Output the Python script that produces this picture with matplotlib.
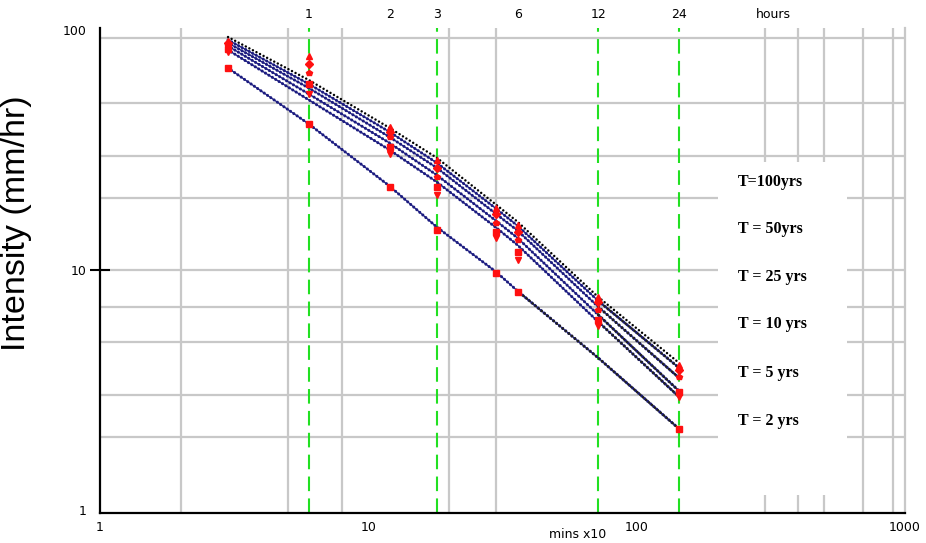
import numpy as np
import matplotlib
matplotlib.use("Agg")
import matplotlib.pyplot as plt
from matplotlib.patches import Rectangle
from matplotlib.ticker import NullLocator, FixedLocator, FixedFormatter

# duration in units of 10 minutes
durations = [3, 6, 12, 18, 30, 36, 72, 144]

labels = ["T=100yrs", "T = 50yrs", "T = 25 yrs", "T = 10 yrs", "T = 5 yrs", "T = 2 yrs"]

# fitted IDF curves (mm/hr)
fit_t100 = [93.9, 62.1, 39.2, 29.4, 18.7, 15.9, 7.7, 4.09]
fit_t50 = [91.3, 59.8, 37.7, 28.0, 18.0, 15.3, 7.42, 3.90]
fit_t25 = [88.7, 57.5, 35.9, 26.7, 17.1, 14.6, 7.01, 3.54]
fit_t10 = [86.1, 54.3, 33.9, 24.9, 16.0, 13.6, 6.49, 3.12]
fit_t5 = [82.9, 51.3, 31.7, 23.3, 15.0, 12.7, 6.07, 2.95]
fit_t2 = [69.7, 40.7, 22.4, 15.1, 9.8, 8.17, 4.29, 2.17]

# observed intensities (mm/hr)
obs_t100 = [90.4, 78.3, 39.5, 28.8, 18.1, 15.4, 7.7, 4.01]
obs_t50 = [88.7, 72.4, 37.7, 26.7, 17.1, 14.4, 7.35, 3.82]
obs_t25 = [86.1, 66.4, 35.9, 24.5, 15.7, 13.3, 6.8, 3.57]
obs_t10 = [83.7, 59.8, 32.6, 22.2, 14.4, 11.9, 6.2, 3.09]
obs_t5 = [81.3, 54.3, 30.5, 20.6, 13.6, 11.0, 5.84, 2.95]
obs_t2 = [69.7, 40.7, 22.2, 14.7, 9.7, 8.1, np.nan, 2.17]

hour_ticks = [6, 12, 18, 36, 72, 144]
hour_labels = ["1", "2", "3", "6", "12", "24"]
green_lines = [6, 18, 72, 144]

x_grid = [2, 5, 8, 20, 30, 300, 400, 500, 700, 900]
y_grid = [2, 3, 5, 7, 10, 20, 30, 50, 93]

fits = [fit_t100, fit_t50, fit_t25, fit_t10, fit_t5, fit_t2]
obs = [obs_t100, obs_t50, obs_t25, obs_t10, obs_t5, obs_t2]
obs_markers = ["^", "D", "p", "s", "v", "s"]

W, H = 926, 543
fig = plt.figure(figsize=(W / 100, H / 100), dpi=100)
ax = fig.add_axes([100 / W, 1 - 513 / H, 805 / W, 485 / H])
ax.set_xscale("log")
ax.set_yscale("log")
ax.set_xlim(1, 1000)
ax.set_ylim(0.967, 102.4)

grid_col = "#c8c8c8"
for gx in x_grid:
    ax.axvline(gx, color=grid_col, lw=1.6, zorder=1)
for gy in y_grid:
    ax.axhline(gy, color=grid_col, lw=1.6, zorder=1)

for gx in green_lines:
    ax.axvline(gx, color="#22e022", lw=1.5, dashes=(7, 3.5), zorder=2)

navy = "#1c1c80"
for i, f in enumerate(fits):
    if i == 0:
        ax.plot(durations, f, color="black", lw=1.8, dashes=(0.01, 1.6),
                dash_capstyle="round", zorder=3)
        continue
    ax.plot(durations, f, color=navy, lw=0.9, zorder=3)
    ax.plot(durations, f, color=navy, lw=2.2, dashes=(0.01, 1.3),
            dash_capstyle="round", zorder=3)
    tail = 5 if i == 5 else 6
    ax.plot(durations[tail:], f[tail:], color="#202020", lw=2.0, dashes=(0.01, 1.4),
            dash_capstyle="round", zorder=3)

for o, m in zip(obs, obs_markers):
    ax.plot(durations, o, ls="none", marker=m, ms=4, color="#ff1010",
            mec="#ff1010", zorder=4)

ax.xaxis.set_minor_locator(NullLocator())
ax.yaxis.set_minor_locator(NullLocator())
ax.xaxis.set_major_locator(FixedLocator([1, 10, 100, 1000]))
ax.xaxis.set_major_formatter(FixedFormatter(["1", "10", "100", "1000"]))
ax.yaxis.set_major_locator(FixedLocator([1, 10, 100]))
ax.yaxis.set_major_formatter(FixedFormatter(["1", "10", "100"]))
ax.tick_params(axis="x", length=0, pad=6, labelsize=9)
ax.tick_params(axis="y", direction="inout", length=15, width=1.5, pad=2, labelsize=9)
yt = ax.yaxis.get_major_ticks()
yt[0].tick1line.set_visible(False)
yt[2].tick1line.set_visible(False)

ax.spines["top"].set_visible(False)
ax.spines["right"].set_color(grid_col)
ax.spines["right"].set_linewidth(1.6)
ax.spines["left"].set_linewidth(1.6)
ax.spines["bottom"].set_linewidth(1.6)

# hour labels along the top
for hx, hl in zip(hour_ticks, hour_labels):
    ax.text(hx, 1.027, hl, transform=ax.get_xaxis_transform(), ha="center",
            va="center", fontsize=9)
ax.text(322, 1.027, "hours", transform=ax.get_xaxis_transform(), ha="center",
        va="center", fontsize=9)
ax.text(60, -0.03, "mins x10", transform=ax.get_xaxis_transform(), ha="center",
        va="top", fontsize=9)

fig.text(17 / W, 1 - 223 / H, "Intensity (mm/hr)", rotation=90, ha="center",
         va="center", fontsize=24.5, family="Liberation Sans")

# legend panel
fig.patches.append(Rectangle((718 / W, 1 - 495 / H), 129 / W, 333 / H,
                             transform=fig.transFigure, facecolor="white",
                             edgecolor="none", zorder=5))
label_y = [182, 229, 277, 324, 373, 421]
for ly, lab in zip(label_y, labels):
    fig.text(738 / W, 1 - ly / H, lab, ha="left", va="center", fontsize=11.5,
             weight="bold", family="Liberation Serif", zorder=6)

fig.savefig("out.png", dpi=100, facecolor="white")
